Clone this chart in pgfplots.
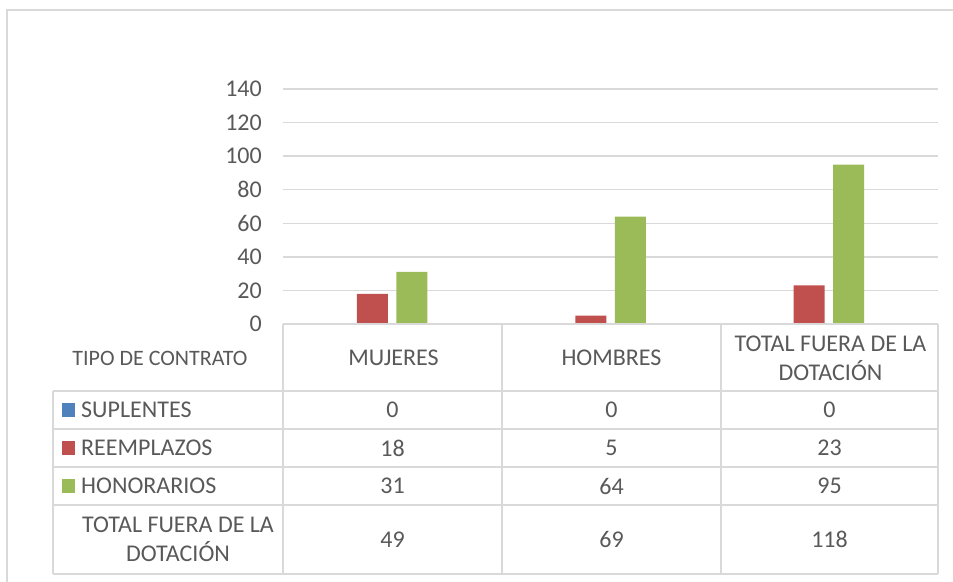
\documentclass[border=0pt]{standalone}
\usepackage{pgfplots}
\pgfplotsset{compat=1.18}
\usepackage{fontspec}
\setmainfont{Carlito}
\definecolor{txt}{HTML}{595959}
\definecolor{gridc}{HTML}{D9D9D9}
\definecolor{cblue}{HTML}{4F81BD}
\definecolor{cred}{HTML}{C0504D}
\definecolor{cgreen}{HTML}{9BBB59}
\begin{document}
\begin{tikzpicture}
\begin{scope}[x=1bp,y=-1bp]
\path[use as bounding box] (0,0) rectangle (953,582);
% outer chart frame
\draw[gridc, line width=1.5bp] (7,600) -- (7,10) -- (960,10);
\end{scope}
\begin{axis}[
  at={(283bp,-324bp)}, anchor=south west,
  scale only axis, width=655bp, height=235bp,
  xmin=0, xmax=3, ymin=0, ymax=140,
  ytick={0,20,...,140}, xtick=\empty,
  ymajorgrids, grid style={gridc, line width=1.5bp},
  axis line style={draw=none}, major tick length=0pt,
  yticklabel style={font=\fontsize{24bp}{28bp}\selectfont, text=txt, anchor=east, inner sep=0pt, xshift=-21bp},
  /pgf/number format/assume math mode=true,
  ybar, bar width=31bp,
  clip=false,
]
\addplot[fill=cblue, draw=none, bar shift=-59.25bp] coordinates {(0.5,0) (1.5,0) (2.5,0)};
\addplot[fill=cred, draw=none, bar shift=-19.75bp] coordinates {(0.5,18) (1.5,5) (2.5,23)};
\addplot[fill=cgreen, draw=none, bar shift=19.75bp] coordinates {(0.5,31) (1.5,64) (2.5,95)};
\addplot[fill=none, draw=none, bar shift=59.25bp] coordinates {(0.5,49) (1.5,69) (2.5,118)};
\end{axis}
\begin{scope}[x=1bp,y=-1bp, every node/.style={text=txt, font=\fontsize{24bp}{29bp}\selectfont, inner sep=0pt}]
% table grid
\draw[gridc, line width=1.5bp] (283,324) -- (938,324);
\foreach \yy in {391,429,467,505,574} \draw[gridc, line width=1.5bp] (53,\yy) -- (938,\yy);
\foreach \xx in {283,502,721,938} \draw[gridc, line width=1.5bp] (\xx,324) -- (\xx,574);
\draw[gridc, line width=1.5bp] (53,391) -- (53,574);
% header
\node[font=\fontsize{22bp}{26bp}\selectfont] at (160,358) {TIPO DE CONTRATO};
\node at (393.5,358) {MUJERES};
\node at (611.5,358) {HOMBRES};
\node[align=center] at (830.5,358) {TOTAL FUERA DE LA\\DOTACIÓN};
% row labels
\fill[cblue] (62,403) rectangle (75,417);
\fill[cred] (62,441) rectangle (75,455);
\fill[cgreen] (62,479) rectangle (75,493);
\node[anchor=west] at (81,410) {SUPLENTES};
\node[anchor=west] at (81,448) {REEMPLAZOS};
\node[anchor=west] at (81,486) {HONORARIOS};
\node[align=center] at (178,539.5) {TOTAL FUERA DE LA\\DOTACIÓN};
% values
\node at (392.5,410) {0};   \node at (611.5,410) {0};  \node at (829.5,410) {0};
\node at (392.5,448) {18};  \node at (611.5,448) {5};  \node at (829.5,448) {23};
\node at (392.5,486) {31};  \node at (611.5,486) {64}; \node at (829.5,486) {95};
\node at (392.5,539.5) {49}; \node at (611.5,539.5) {69}; \node at (829.5,539.5) {118};
\end{scope}
\end{tikzpicture}
\end{document}
